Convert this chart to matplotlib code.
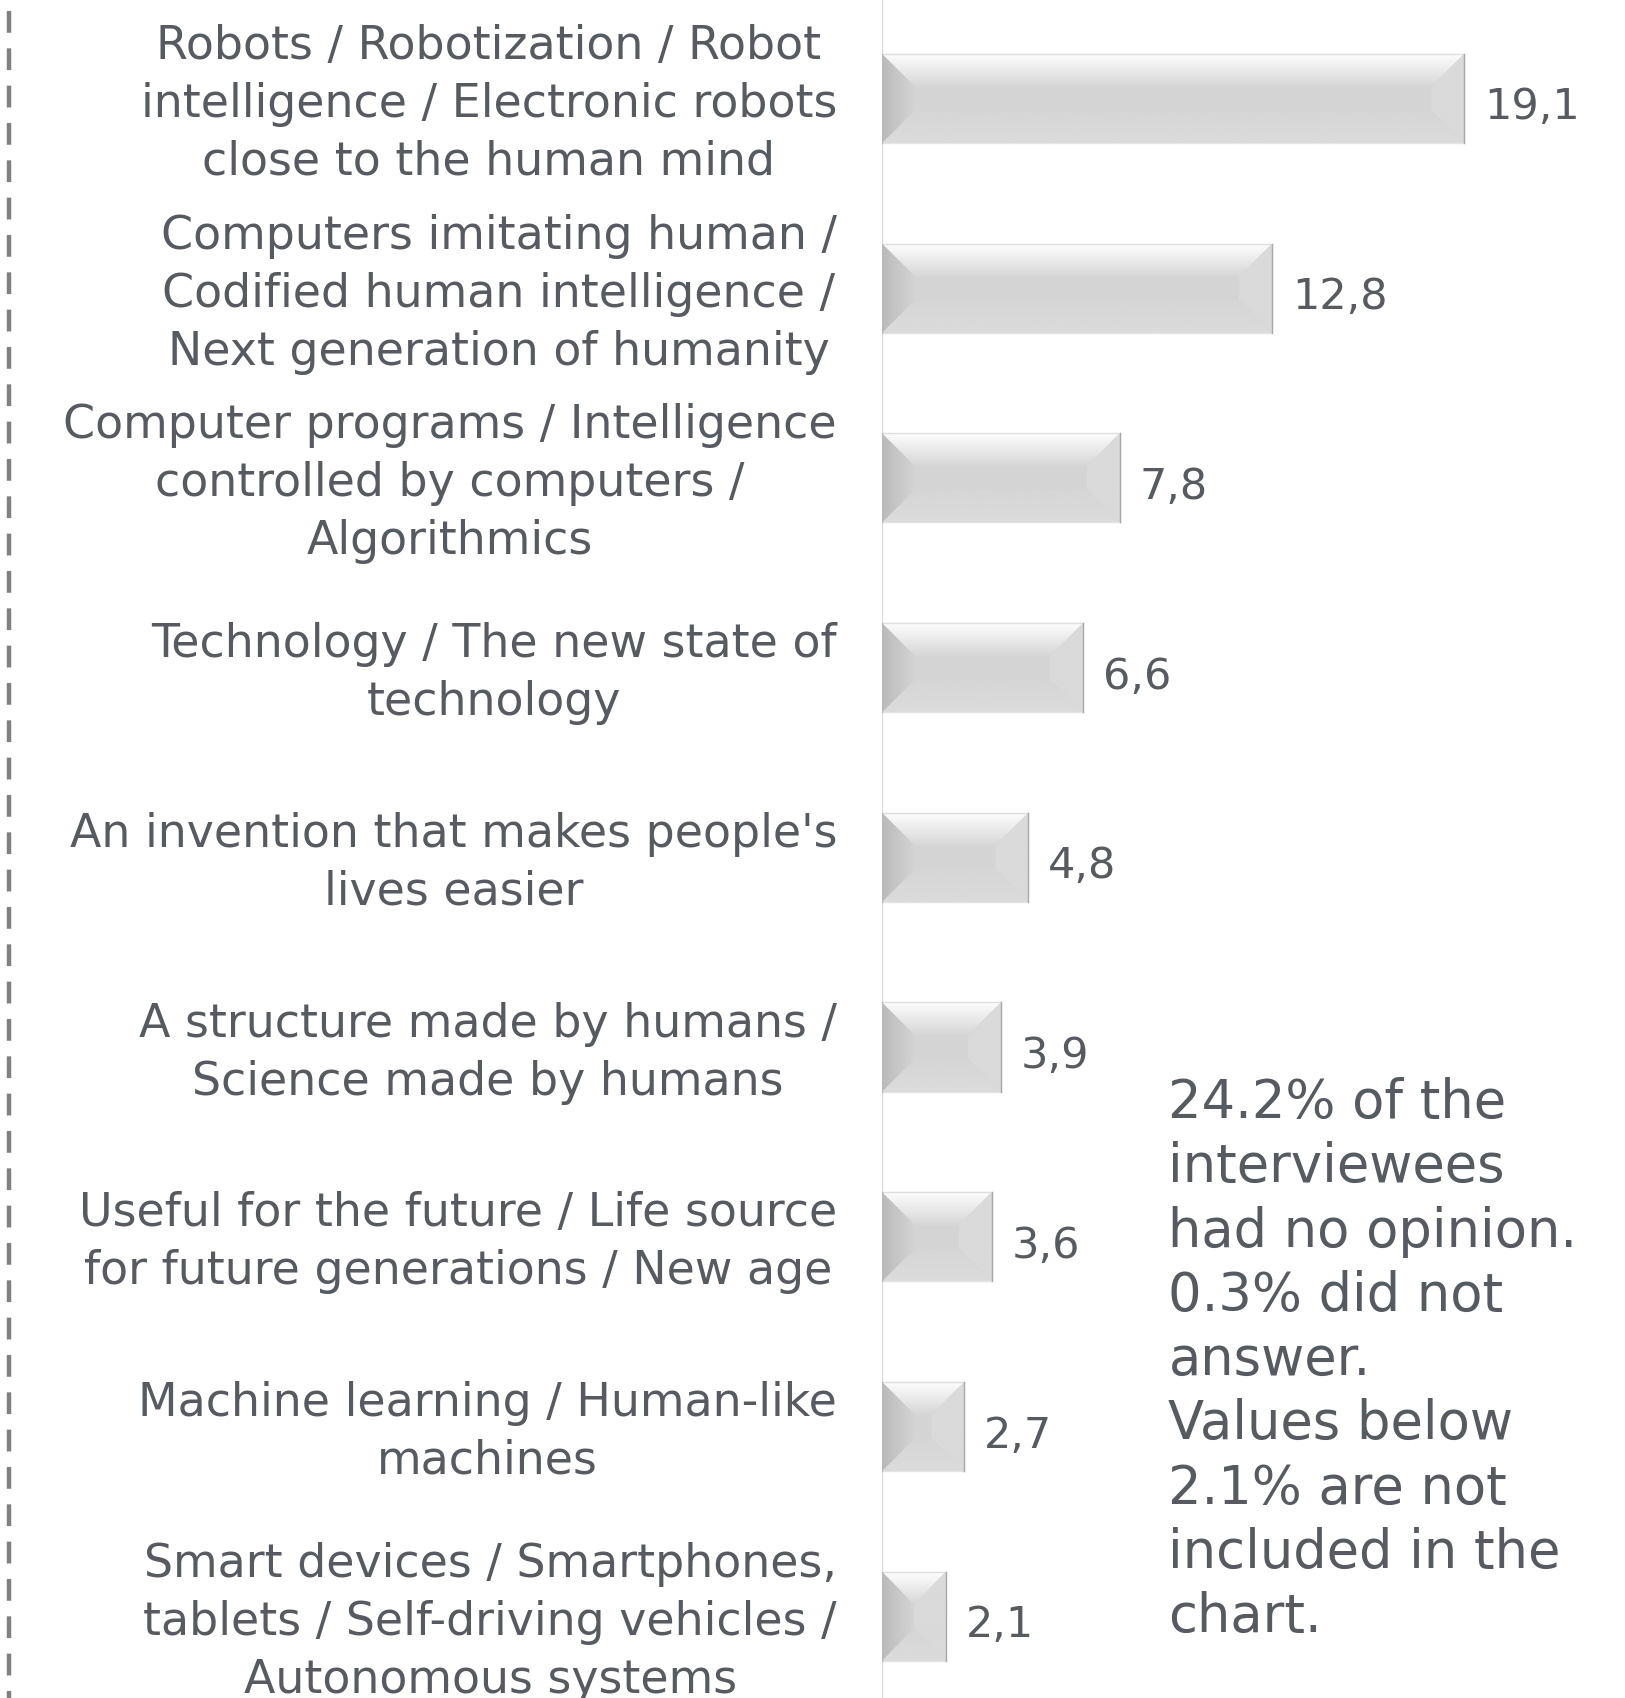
import numpy as np
import matplotlib
matplotlib.use('Agg')
import matplotlib.pyplot as plt
from matplotlib.patches import Polygon
from matplotlib.lines import Line2D

plt.rcParams['font.family'] = ['DejaVu Sans']

categories = [
    'Robots / Robotization / Robot\nintelligence / Electronic robots\nclose to the human mind',
    'Computers imitating human /\nCodified human intelligence /\nNext generation of humanity',
    'Computer programs / Intelligence\ncontrolled by computers /\nAlgorithmics',
    'Technology / The new state of\ntechnology',
    "An invention that makes people's\nlives easier",
    'A structure made by humans /\nScience made by humans',
    'Useful for the future / Life source\nfor future generations / New age',
    'Machine learning / Human-like\nmachines',
    'Smart devices / Smartphones,\ntablets / Self-driving vehicles /\nAutonomous systems',
]
values = [19.1, 12.8, 7.8, 6.6, 4.8, 3.9, 3.6, 2.7, 2.1]
value_labels = ['19,1', '12,8', '7,8', '6,6', '4,8', '3,9', '3,6', '2,7', '2,1']
note = ('24.2% of the\ninterviewees\nhad no opinion.\n0.3% did not\nanswer.\n'
        'Values below\n2.1% are not\nincluded in the\nchart.')

txt = '#565b62'
W, H, DPI = 1625, 1698, 100
fig = plt.figure(figsize=(W / DPI, H / DPI), dpi=DPI)
ax = fig.add_axes([882 / W, 0, 1 - 882 / W, 1])

XMAX, YLO, YHI = 24.38, -0.431, 8.519
n = len(values)
ypos = np.arange(n)[::-1]
bh = 0.47

bars = ax.barh(ypos, values, height=bh, color='#d4d4d4', edgecolor='none', zorder=2)

px_x = XMAX / (W - 882)
px_y = (YHI - YLO) / H


def shade(pts, c_from, c_to, direction):
    # fill a bevel face with a linear grey ramp, clipped to the face outline
    poly = Polygon(pts, closed=True, facecolor='none', edgecolor='none')
    ax.add_patch(poly)
    xs = [p[0] for p in pts]
    ys = [p[1] for p in pts]
    ramp = np.linspace(c_from, c_to, 64)
    if direction == 'down':      # top face: light at top edge
        img = ramp[:, None]
        origin = 'upper'
    elif direction == 'up':      # bottom face
        img = ramp[:, None]
        origin = 'lower'
    elif direction == 'right':   # left face
        img = ramp[None, :]
        origin = 'upper'
    else:                        # right face
        img = ramp[::-1][None, :]
        origin = 'upper'
    im = ax.imshow(img, cmap='gray', vmin=0, vmax=1, aspect='auto', origin=origin,
                   extent=(min(xs), max(xs), min(ys), max(ys)), zorder=3,
                   interpolation='bilinear')
    im.set_clip_path(poly)


bev = 33
for b in bars:
    x0, y0 = b.get_x(), b.get_y()
    w = b.get_width()
    x1, y1 = x0 + w, y0 + b.get_height()
    dx = min(bev * px_x, w / 2)
    dy = bev * px_y
    shade([(x0, y1), (x1, y1), (x1 - dx, y1 - dy), (x0 + dx, y1 - dy)], 0.99, 0.84, 'down')
    shade([(x0, y0), (x1, y0), (x1 - dx, y0 + dy), (x0 + dx, y0 + dy)], 0.86, 0.835, 'up')
    shade([(x0, y0), (x0, y1), (x0 + dx, y1 - dy), (x0 + dx, y0 + dy)], 0.73, 0.83, 'right')
    shade([(x1, y0), (x1, y1), (x1 - dx, y1 - dy), (x1 - dx, y0 + dy)], 0.855, 0.855, 'left')
    ax.plot([x0, x1], [y1, y1], color='#dedede', linewidth=1.0, zorder=4)
    ax.plot([x0, x1], [y0, y0], color='#e4e4e4', linewidth=1.0, zorder=4)
    ax.plot([x1, x1], [y0, y1], color='#a8a8a8', linewidth=1.0, zorder=4)
    ax.plot([x0, x0], [y0, y1], color='#b8b8b8', linewidth=1.0, zorder=4)

for yv, v, lab in zip(ypos, values, value_labels):
    ax.text(v + 20 * px_x, yv - 9 * px_y, lab, ha='left', va='center', fontsize=31, color=txt)

for yv, cat in zip(ypos, categories):
    ax.text(-45 * px_x, yv - 6 * px_y, cat, ha='right', va='center', multialignment='center',
            fontsize=33, color=txt, linespacing=1.37, clip_on=False)

ax.text(9.4, 1.35, note, ha='left', va='center', fontsize=38, color=txt, linespacing=1.3)

ax.axvline(0, color='#d9d9d9', linewidth=1.6, zorder=1)
ax.set_xlim(0, XMAX)
ax.set_ylim(YLO, YHI)
for s in ax.spines.values():
    s.set_visible(False)
ax.set_xticks([])
ax.set_yticks([])

# dashed rule down the left edge
fig.add_artist(Line2D([9 / W, 9 / W], [1 - 11 / H, 0], transform=fig.transFigure,
                      color='#808080', linewidth=3.2, linestyle=(0, (4.9, 3.5)),
                      dash_capstyle='butt'))

fig.savefig('out.png', dpi=DPI)
